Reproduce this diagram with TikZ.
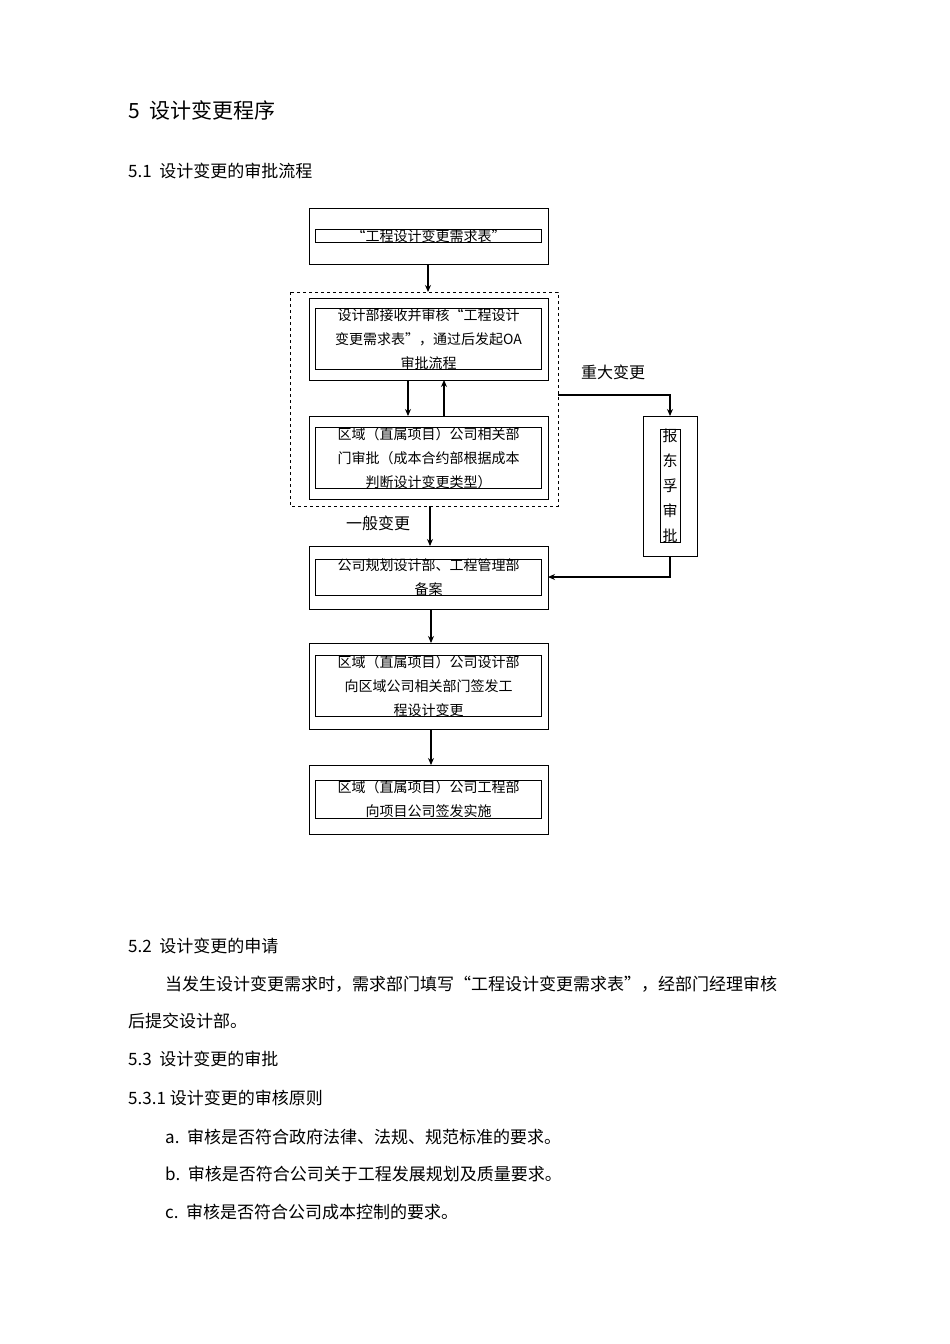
\documentclass[tikz,border=0pt]{standalone}
\usepackage{fontspec}
\setmainfont{Liberation Serif}
\newfontfamily\cjk{Noto Sans CJK SC}
\usetikzlibrary{arrows.meta}
\begin{document}
\begin{tikzpicture}[x=1pt,y=-1pt,
  box/.style={draw,line width=1pt,inner sep=0pt,text width=226pt,align=center,font=\cjk\fontsize{14}{24}\selectfont},
  arr/.style={-{Stealth[length=7pt,width=6pt]},line width=1.1pt},
  txt/.style={anchor=west,inner sep=0pt,font=\cjk\fontsize{17}{20}\selectfont}]
\useasboundingbox[fill=white] (0,0) rectangle (950,1344);
\node[txt,font=\cjk\fontsize{21}{24}\selectfont] (h) at (128,110) {5\ \ 设计变更程序};
\node[txt] (h1) at (128,171) {5.1\ \ 设计变更的审批流程};
\draw[line width=1pt] (309,208) rectangle (548,264);
\node[box] (b1) at (428.5,236) {“工程设计变更需求表”};
\draw[dashed,line width=1pt] (290,292) rectangle (558,506);
\coordinate (dt) at (428,292);
\coordinate (dr) at (558,395);
\coordinate (db) at (430,506);
\draw[line width=1pt] (309,298) rectangle (548,380);
\node[box] (b2) at (428.5,339) {设计部接收并审核“工程设计\\变更需求表”，通过后发起OA\\审批流程};
\draw[line width=1pt] (309,416) rectangle (548,499);
\node[box] (b3) at (428.5,458) {区域（直属项目）公司相关部\\门审批（成本合约部根据成本\\判断设计变更类型）};
\draw[line width=1pt] (643,416) rectangle (697,556);
\node[box,text width=20pt,font=\cjk\fontsize{15}{25}\selectfont] (bd) at (670,486) {报\\东\\孚\\审\\批};
\draw[line width=1pt] (309,546) rectangle (548,609);
\node[box] (b4) at (428.5,577.5) {公司规划设计部、工程管理部\\备案};
\draw[line width=1pt] (309,643) rectangle (548,729);
\node[box] (b5) at (428.5,686) {区域（直属项目）公司设计部\\向区域公司相关部门签发工\\程设计变更};
\draw[line width=1pt] (309,765) rectangle (548,834);
\node[box] (b6) at (428.5,799.5) {区域（直属项目）公司工程部\\向项目公司签发实施};
\draw[arr] (428,264) -- (dt);
\draw[arr] (408,380) -- (408,416);
\draw[arr] (444,416) -- (444,380);
\draw[arr] (dr) -- (670,395) -- (670,416);
\node[txt,font=\cjk\fontsize{16}{20}\selectfont] (l1) at (581,372) {重大变更};
\draw[arr] (db) -- (430,546);
\node[txt,font=\cjk\fontsize{16}{20}\selectfont] (l2) at (346,523) {一般变更};
\draw[arr] (670,556) -- (670,577) -- (548,577);
\draw[arr] (431,609) -- (431,643);
\draw[arr] (431,729) -- (431,765);
\node[txt] (p1) at (128,946) {5.2\ \ 设计变更的申请};
\node[txt] (p2) at (165,984) {当发生设计变更需求时，需求部门填写“工程设计变更需求表”，经部门经理审核};
\node[txt] (p3) at (128,1021) {后提交设计部。};
\node[txt] (p4) at (128,1059) {5.3\ \ 设计变更的审批};
\node[txt] (p5) at (128,1098) {5.3.1 设计变更的审核原则};
\node[txt] (p6) at (165,1137) {a.\ \ 审核是否符合政府法律、法规、规范标准的要求。};
\node[txt] (p7) at (165,1174) {b.\ \ 审核是否符合公司关于工程发展规划及质量要求。};
\node[txt] (p8) at (165,1212) {c.\ \ 审核是否符合公司成本控制的要求。};
\end{tikzpicture}
\end{document}
